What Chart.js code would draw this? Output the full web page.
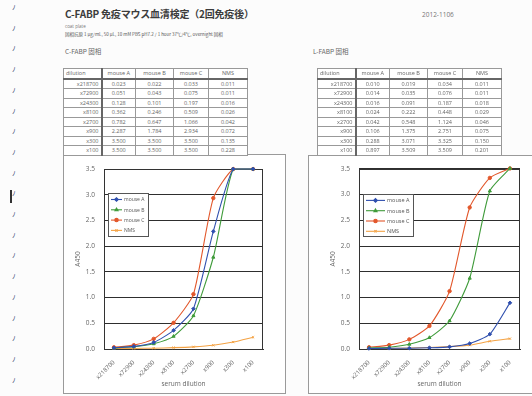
<!DOCTYPE html>
<html>
<head>
<meta charset="utf-8">
<script src="https://cdn.jsdelivr.net/npm/chart.js@4.4.1/dist/chart.umd.min.js"></script>
<style>
  html, body { margin: 0; padding: 0; background: #fcfcfc; }
  body { width: 532px; height: 396px; position: relative; overflow: hidden;
         font-family: "Open Sans", "Noto Sans CJK JP", sans-serif; color: #555; }
  .abs { position: absolute; white-space: nowrap; }
  #title { left: 65px; top: 6px; font: bold 10px "Noto Sans CJK JP", sans-serif; color: #3c3c3c; letter-spacing: -0.2px; }
  #date { left: 422px; top: 10px; font: 6.5px "Open Sans", sans-serif; color: #777; }
  #sub1 { left: 65px; top: 23px; font: 4.5px "Open Sans", sans-serif; color: #777; }
  #sub2 { left: 65px; top: 31px; font: 4.5px "Noto Sans CJK JP", sans-serif; color: #555; }
  .sect { top: 46px; font: 6.5px "Noto Sans CJK JP", sans-serif; color: #666; }
  .mark { left: 12px; font: 7px "DejaVu Sans", sans-serif; color: #3a4870; }
  #bar { left: 10px; top: 190px; width: 1.5px; height: 13px; background: #333; }
  table { position: absolute; border-collapse: collapse; table-layout: fixed;
          font: 5.5px "Open Sans", sans-serif; color: #666; background: #fff; }
  td { border: 1px solid #999; height: 8.5px; line-height: 8px; padding: 0 2px;
       text-align: center; overflow: hidden; white-space: nowrap; }
  tr.head td { border-bottom: 2px solid #666; }
  td.dil { text-align: right; border-right: 2px solid #666; }
  tr.head td.dil { text-align: left; }
  .frame { position: absolute; border: 1px solid #9a9a9a; background: #fff; }
  canvas { display: block; }
</style>
</head>
<body>
<div class="abs" id="title">C-FABP 免疫マウス血清検定（2回免疫後）</div>
<div class="abs" id="date">2012-1106</div>
<div class="abs" id="sub1">coat plate</div>
<div class="abs" id="sub2">固相抗原 1 μg/mL, 50 μL, 10 mM PBS pH7.2 / 1 hour 37℃/4℃, overnight 固相</div>
<div class="abs sect" style="left:65px">C-FABP 固相</div>
<div class="abs sect" style="left:313px">L-FABP 固相</div>
<div class="abs" id="bar"></div>

<div class="frame" style="left:63px; top:154px; width:221px; height:238px;">
  <canvas id="chartC" width="221" height="238"></canvas>
</div>
<div class="frame" style="left:308px; top:155px; width:226px; height:237px;">
  <canvas id="chartL" width="224" height="237"></canvas>
</div>

<table id="tableC" style="left:63px; top:68px; width:184px;"></table>
<table id="tableL" style="left:317px; top:68px; width:185px;"></table>

<script>
// serum dilution steps (x axis)
const dilutions = ['x218700', 'x72900', 'x24300', 'x8100', 'x2700', 'x900', 'x300', 'x100'];
const seriesNames = ['mouse A', 'mouse B', 'mouse C', 'NMS'];

// A450, C-FABP coated plate
const cfabpMouseA = [0.023, 0.051, 0.128, 0.362, 0.782, 2.287, 3.500, 3.500];
const cfabpMouseB = [0.022, 0.043, 0.101, 0.246, 0.647, 1.784, 3.500, 3.500];
const cfabpMouseC = [0.033, 0.075, 0.197, 0.509, 1.066, 2.934, 3.500, 3.500];
const cfabpNMS    = [0.011, 0.011, 0.016, 0.026, 0.042, 0.072, 0.135, 0.228];

// A450, L-FABP coated plate
const lfabpMouseA = [0.010, 0.014, 0.016, 0.024, 0.042, 0.106, 0.288, 0.897];
const lfabpMouseB = [0.019, 0.035, 0.091, 0.222, 0.548, 1.375, 3.071, 3.509];
const lfabpMouseC = [0.034, 0.076, 0.187, 0.448, 1.124, 2.751, 3.325, 3.509];
const lfabpNMS    = [0.011, 0.011, 0.018, 0.029, 0.046, 0.075, 0.150, 0.201];

const yTicks = [0, 0.5, 1.0, 1.5, 2.0, 2.5, 3.0, 3.5];

// left-margin binder marks
for (let i = 0; i < 19; i++) {
  const m = document.createElement('div');
  m.className = 'abs mark';
  m.style.top = (4 + i * 20.7) + 'px';
  m.textContent = 'ﾉ';
  document.body.appendChild(m);
}

const styles = [
  { color: '#2f4fae', point: 'rectRot', radius: 1.8 },
  { color: '#3f9b3a', point: 'triangle', radius: 1.8 },
  { color: '#e2572b', point: 'circle', radius: 1.7 },
  { color: '#f4a345', point: 'crossRot', radius: 1.6 }
];

function fillTable(id, cols) {
  const t = document.getElementById(id);
  const widths = [38, 34, 38, 35, 39];
  const cg = document.createElement('colgroup');
  widths.forEach(w => { const c = document.createElement('col'); c.style.width = w + 'px'; cg.appendChild(c); });
  t.appendChild(cg);
  const head = document.createElement('tr');
  head.className = 'head';
  ['dilution'].concat(seriesNames).forEach((h, i) => {
    const td = document.createElement('td');
    if (i === 0) td.className = 'dil';
    td.textContent = h;
    head.appendChild(td);
  });
  t.appendChild(head);
  dilutions.forEach((d, r) => {
    const tr = document.createElement('tr');
    const td0 = document.createElement('td');
    td0.className = 'dil';
    td0.textContent = d;
    tr.appendChild(td0);
    cols.forEach(col => {
      const td = document.createElement('td');
      td.textContent = col[r].toFixed(3);
      tr.appendChild(td);
    });
    t.appendChild(tr);
  });
}
fillTable('tableC', [cfabpMouseA, cfabpMouseB, cfabpMouseC, cfabpNMS]);
fillTable('tableL', [lfabpMouseA, lfabpMouseB, lfabpMouseC, lfabpNMS]);

// plot-area frame
const plotFrame = {
  id: 'plotFrame',
  beforeDatasetsDraw(chart) {
    const { ctx, chartArea: a } = chart;
    ctx.save();
    ctx.strokeStyle = '#333';
    ctx.lineWidth = 1;
    ctx.strokeRect(Math.round(a.left) + 0.5, Math.round(a.top) + 0.5,
                   Math.round(a.width) - 1, Math.round(a.height));
    ctx.restore();
  }
};

// legend box drawn inside the plot area
const insetLegend = {
  id: 'insetLegend',
  afterDatasetsDraw(chart, args, opts) {
    const { ctx, chartArea: a } = chart;
    const x = a.left + opts.dx, y = a.top + opts.dy;
    ctx.save();
    ctx.fillStyle = '#ffffff';
    ctx.fillRect(x, y, opts.w, opts.h);
    ctx.strokeStyle = '#555';
    ctx.lineWidth = 1;
    ctx.strokeRect(Math.round(x) + 0.5, Math.round(y) + 0.5, opts.w, opts.h);
    ctx.font = opts.font + 'px "Open Sans", sans-serif';
    ctx.textBaseline = 'middle';
    chart.data.datasets.forEach((ds, i) => {
      const ry = y + 6.5 + i * 10.3;
      ctx.strokeStyle = ds.borderColor;
      ctx.fillStyle = ds.borderColor;
      ctx.lineWidth = 1.1;
      ctx.beginPath();
      ctx.moveTo(x + 3, ry);
      ctx.lineTo(x + opts.line, ry);
      ctx.stroke();
      Chart.helpers.drawPoint(ctx, { pointStyle: ds.pointStyle, radius: ds.pointRadius, borderWidth: 1, rotation: 0 },
                              x + 3 + (opts.line - 3) / 2, ry);
      ctx.fillStyle = '#555';
      ctx.fillText(ds.label, x + opts.line + 2, ry + 0.5);
    });
    ctx.restore();
  }
};

function makeChart(id, values, g) {
  new Chart(document.getElementById(id), {
    type: 'line',
    data: {
      labels: dilutions,
      datasets: values.map((v, i) => ({
        label: seriesNames[i],
        data: v,
        borderColor: styles[i].color,
        backgroundColor: styles[i].color,
        pointStyle: styles[i].point,
        pointRadius: styles[i].radius,
        pointBorderWidth: 1,
        borderWidth: 1.1,
        tension: 0.2,
        clip: false
      }))
    },
    options: {
      responsive: false,
      animation: false,
      events: [],
      layout: { padding: { top: g.top, right: g.right, left: 0, bottom: 0 } },
      plugins: {
        legend: { display: false },
        tooltip: { enabled: false },
        insetLegend: g.legend
      },
      scales: {
        x: {
          offset: true,
          grid: { display: false },
          border: { display: true, color: '#333' },
          ticks: { autoSkip: false, maxRotation: 45, minRotation: 45, padding: 2,
                   font: { size: 6, family: '"Open Sans", sans-serif' }, color: '#666' },
          title: { display: true, text: 'serum dilution', color: '#666', padding: { top: 0, bottom: 5 },
                   font: { size: 6.5, family: '"Open Sans", sans-serif' } },
          afterFit: s => { s.height = g.xh; }
        },
        y: {
          min: 0, max: 3.5,
          afterBuildTicks: s => { s.ticks = yTicks.map(v => ({ value: v })); },
          ticks: { callback: v => Number(v).toFixed(1), padding: g.tickPad,
                   font: { size: 6.5, family: '"Open Sans", sans-serif' }, color: '#666' },
          grid: { color: '#2e2e2e', lineWidth: 1, drawTicks: false },
          border: { display: true, color: '#333' },
          title: { display: true, text: 'A450', color: '#666', padding: { top: g.titlePad, bottom: 0 },
                   font: { size: 6.5, family: '"Open Sans", sans-serif' } },
          afterFit: s => { s.width = g.yw; }
        }
      }
    },
    plugins: [plotFrame, insetLegend]
  });
}

makeChart('chartC', [cfabpMouseA, cfabpMouseB, cfabpMouseC, cfabpNMS],
  { top: 14, right: 22, xh: 44, yw: 40, tickPad: 9, titlePad: 10,
    legend: { dx: 4, dy: 24, w: 40, h: 43, line: 14, font: 5 } });
makeChart('chartL', [lfabpMouseA, lfabpMouseB, lfabpMouseC, lfabpNMS],
  { top: 12, right: 13, xh: 44, yw: 50, tickPad: 9, titlePad: 20,
    legend: { dx: 4, dy: 25, w: 50, h: 42, line: 22, font: 5.5 } });
</script>
</body>
</html>
